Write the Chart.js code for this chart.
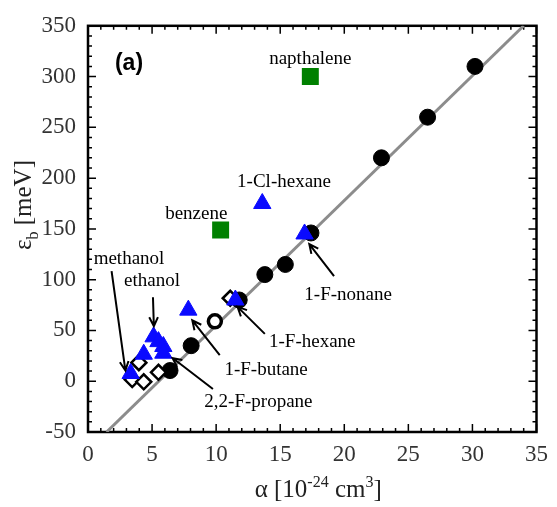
<!DOCTYPE html>
<html>
<head>
<meta charset="utf-8">
<script src="https://cdn.jsdelivr.net/npm/chart.js@4"></script>
<style>
  body { margin: 0; background: #fff; }
  canvas { display: block; }
</style>
</head>
<body>
<canvas id="chart" width="557" height="507"></canvas>
<script>
// alkanes (filled circles)
const circleX = [6.4, 8.05, 11.8, 13.8, 15.4, 17.4, 22.9, 26.5, 30.2];
const circleY = [10.5, 35, 80, 105, 115, 146, 220, 260, 310];
// fluorinated / chlorinated (blue triangles)
const triX = [3.33, 4.35, 5.12, 5.5, 5.88, 5.88, 7.83, 11.5, 13.6, 16.9];
const triY = [7.6, 26.6, 43.7, 39, 34.2, 27.6, 70, 80, 175, 145];
// open diamonds
const diaX = [3.45, 4.35, 3.97, 5.5, 11.1];
const diaY = [1.6, -0.6, 18.3, 8.8, 81.7];
// open circle
const ringX = [9.9];
const ringY = [59];
// aromatics (green squares)
const sqX = [10.35, 17.35];
const sqY = [149, 300];
// fit line
const lineX = [1.45, 34.0];
const lineY = [-50, 350];

const xTicks = [0, 5, 10, 15, 20, 25, 30, 35];
const yTicks = [-50, 0, 50, 100, 150, 200, 250, 300, 350];

// labels: text, x, y (data units)
const labels = [
  ["napthalene", 17.35, 317.5],
  ["1-Cl-hexane", 15.3, 196],
  ["benzene", 8.45, 164.5],
  ["methanol", 3.2, 120.7],
  ["ethanol", 5.0, 99],
  ["1-F-butane", 13.9, 11.4],
  ["2,2-F-propane", 13.3, -20],
  ["1-F-hexane", 17.5, 39],
  ["1-F-nonane", 20.3, 84.6]
];
// arrows: tail x, tail y, head x, head y
const arrows = [
  [1.84, 108.4, 2.92, 10.5],
  [5.07, 82.7, 5.14, 54.2],
  [10.28, 25.7, 8.14, 59.9],
  [9.75, -7.6, 6.6, 22.8],
  [13.8, 46.6, 11.67, 73.2],
  [19.2, 103.6, 17.27, 135]
];

function pts(xs, ys) {
  return xs.map((x, i) => ({ x: x, y: ys[i] }));
}

const SERIF = '"Liberation Serif", "Times New Roman", serif';

const frame = {
  id: 'frame',
  beforeDatasetsDraw(chart) {
    const { ctx, chartArea: a, scales: { x, y } } = chart;
    ctx.save();
    ctx.strokeStyle = '#000';
    ctx.lineWidth = 1.5;
    ctx.beginPath();
    for (let v = 0; v <= 35; v += 1) {
      const px = x.getPixelForValue(v);
      const len = v % 5 === 0 ? 8 : 4;
      ctx.moveTo(px, a.bottom); ctx.lineTo(px, a.bottom - len);
      ctx.moveTo(px, a.top); ctx.lineTo(px, a.top + len);
    }
    for (let v = -50; v <= 350; v += 10) {
      const py = y.getPixelForValue(v);
      const len = v % 50 === 0 ? 8 : 4;
      ctx.moveTo(a.left, py); ctx.lineTo(a.left + len, py);
      ctx.moveTo(a.right, py); ctx.lineTo(a.right - len, py);
    }
    ctx.stroke();
    ctx.lineWidth = 2.5;
    ctx.strokeRect(a.left, a.top, a.right - a.left, a.bottom - a.top);
    ctx.restore();
  },
  afterDatasetsDraw(chart) {
    const { ctx, chartArea: a, scales: { x, y } } = chart;
    ctx.save();
    // arrows
    ctx.strokeStyle = '#000';
    ctx.lineWidth = 2;
    arrows.forEach(([x0, y0, x1, y1]) => {
      const ax = x.getPixelForValue(x0), ay = y.getPixelForValue(y0);
      const bx = x.getPixelForValue(x1), by = y.getPixelForValue(y1);
      const ang = Math.atan2(by - ay, bx - ax);
      ctx.beginPath();
      ctx.moveTo(ax, ay); ctx.lineTo(bx, by);
      ctx.moveTo(bx - 10 * Math.cos(ang - 0.45), by - 10 * Math.sin(ang - 0.45));
      ctx.lineTo(bx, by);
      ctx.lineTo(bx - 10 * Math.cos(ang + 0.45), by - 10 * Math.sin(ang + 0.45));
      ctx.stroke();
    });
    // labels
    ctx.fillStyle = '#000';
    ctx.font = '19px ' + SERIF;
    ctx.textAlign = 'center';
    ctx.textBaseline = 'middle';
    labels.forEach(([t, lx, ly]) => {
      ctx.fillText(t, x.getPixelForValue(lx), y.getPixelForValue(ly));
    });
    ctx.font = 'bold 23px "Liberation Sans", Arial, sans-serif';
    ctx.fillText('(a)', x.getPixelForValue(3.2), y.getPixelForValue(313));

    // x axis title
    ctx.fillStyle = '#222';
    ctx.textAlign = 'left';
    ctx.textBaseline = 'alphabetic';
    const parts = [['α [10', 25, 0], ['-24', 16, -10], [' cm', 25, 0], ['3', 16, -10], [']', 25, 0]];
    let w = 0;
    parts.forEach(p => { ctx.font = p[1] + 'px ' + SERIF; w += ctx.measureText(p[0]).width; });
    let cx = (a.left + a.right) / 2 - w / 2 + 6;
    parts.forEach(p => {
      ctx.font = p[1] + 'px ' + SERIF;
      ctx.fillText(p[0], cx, 497 + p[2]);
      cx += ctx.measureText(p[0]).width;
    });

    // y axis title
    ctx.translate(31, 205);
    ctx.rotate(-Math.PI / 2);
    const yp = [['ε', 25, 0], ['b', 16, 7], [' [meV]', 25, 0]];
    w = 0;
    yp.forEach(p => { ctx.font = p[1] + 'px ' + SERIF; w += ctx.measureText(p[0]).width; });
    cx = -w / 2;
    yp.forEach(p => {
      ctx.font = p[1] + 'px ' + SERIF;
      ctx.fillText(p[0], cx, p[2]);
      cx += ctx.measureText(p[0]).width;
    });
    ctx.restore();
  }
};

new Chart(document.getElementById('chart').getContext('2d'), {
  type: 'scatter',
  data: {
    datasets: [
      {
        label: 'triangles', data: pts(triX, triY),
        pointStyle: 'triangle', pointRadius: 10,
        backgroundColor: '#0a0aff', borderColor: '#0a0aff', borderWidth: 1
      },
      {
        label: 'diamonds', data: pts(diaX, diaY),
        pointStyle: 'rectRot', pointRadius: 7.5,
        backgroundColor: '#fff', borderColor: '#000', borderWidth: 2.5
      },
      {
        label: 'ring', data: pts(ringX, ringY),
        pointStyle: 'circle', pointRadius: 6.5,
        backgroundColor: '#fff', borderColor: '#000', borderWidth: 3.5
      },
      {
        label: 'squares', data: pts(sqX, sqY),
        pointStyle: 'rect', pointRadius: 12,
        backgroundColor: '#008000', borderColor: '#008000', borderWidth: 0
      },
      {
        label: 'circles', data: pts(circleX, circleY),
        pointStyle: 'circle', pointRadius: 8,
        backgroundColor: '#000', borderColor: '#000', borderWidth: 1
      },
      {
        label: 'fit', data: pts(lineX, lineY),
        showLine: true, pointRadius: 0,
        borderColor: '#8c8c8c', borderWidth: 3
      }
    ]
  },
  options: {
    responsive: false,
    animation: false,
    layout: { padding: { top: 11, right: 13, left: 0, bottom: 0 } },
    plugins: { legend: { display: false }, tooltip: { enabled: false } },
    scales: {
      x: {
        type: 'linear', min: 0, max: 35,
        afterBuildTicks: s => { s.ticks = xTicks.map(v => ({ value: v })); },
        afterFit: s => { s.height = 75; },
        grid: { display: false, drawTicks: false },
        border: { display: false },
        ticks: { font: { family: SERIF, size: 23 }, color: '#333', padding: 9, maxRotation: 0 }
      },
      y: {
        type: 'linear', min: -50, max: 350,
        afterBuildTicks: s => { s.ticks = yTicks.map(v => ({ value: v })); },
        afterFit: s => { s.width = 88; },
        grid: { display: false, drawTicks: false },
        border: { display: false },
        ticks: { font: { family: SERIF, size: 23 }, color: '#333', padding: 12 }
      }
    }
  },
  plugins: [frame]
});
</script>
</body>
</html>
